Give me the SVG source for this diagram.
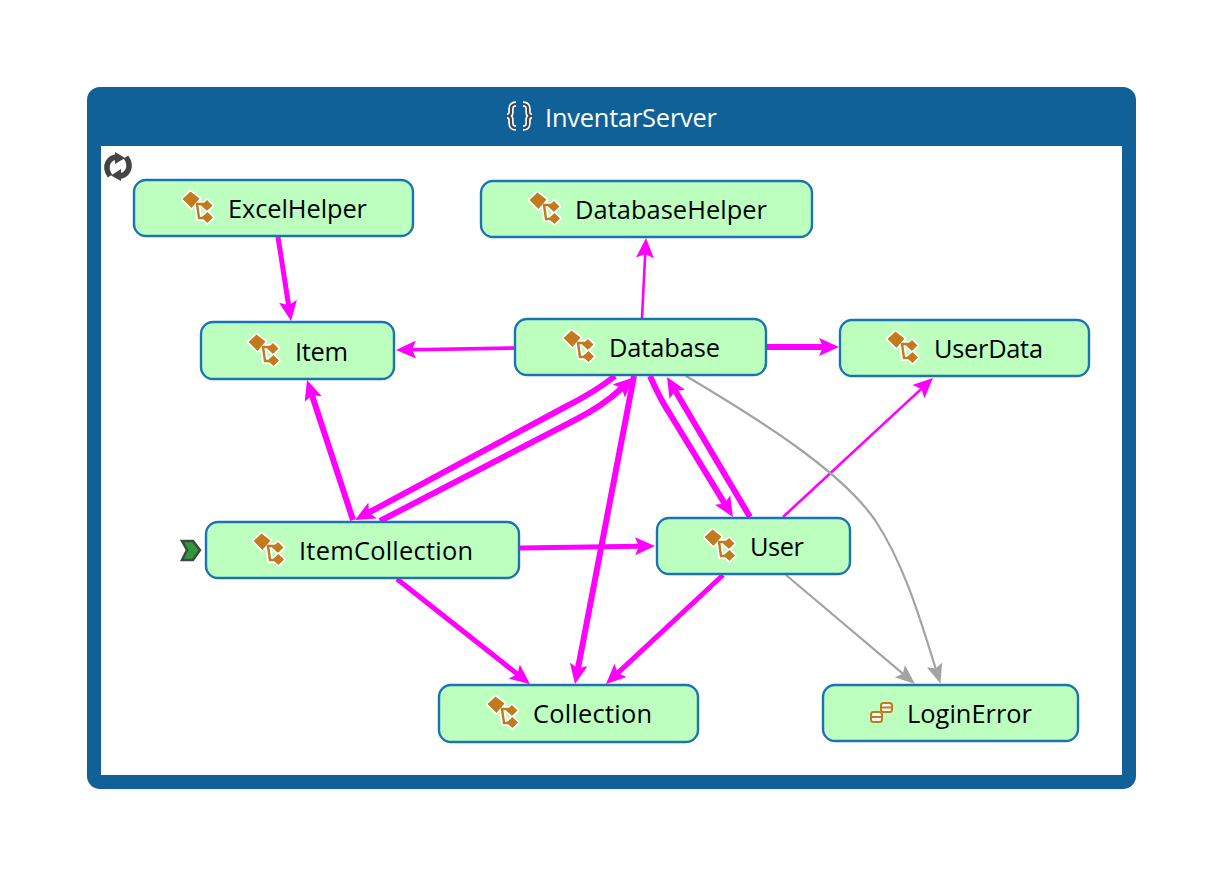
<svg xmlns="http://www.w3.org/2000/svg" width="1222" height="875" viewBox="0 0 1222 875">
<style>
.n{fill:#bcffbf;stroke:#1a74b4;stroke-width:2.4}
.t{font-family:"Open Sans","Noto Sans",sans-serif;font-size:25.4px;fill:#000}
.c{fill:none;stroke-linecap:butt}
.m{stroke:#ff00ff}
.g{stroke:#a3a3a3;stroke-width:2.2;marker-end:url(#ag)}
.w2{stroke-width:2.6;marker-end:url(#am)}
.w3{stroke-width:3.6;marker-end:url(#am)}
.w4{stroke-width:5;marker-end:url(#am)}
.w5{stroke-width:6;marker-end:url(#am)}
.ib{fill:#c17a1e;stroke:#fff;stroke-width:3.2;stroke-linejoin:round;paint-order:stroke}
.il{fill:none;stroke:#fff;stroke-width:6}
.il2{fill:none;stroke:#c17a1e;stroke-width:2.4}
</style>
<defs>
<marker id="am" markerUnits="userSpaceOnUse" markerWidth="20" markerHeight="18" viewBox="0 0 20 18" refX="4" refY="9" orient="auto"><path d="M0 0 L20 9 L0 18 L4 9 Z" fill="#ff00ff"/></marker>
<marker id="ag" markerUnits="userSpaceOnUse" markerWidth="20" markerHeight="18" viewBox="0 0 20 18" refX="4" refY="9" orient="auto"><path d="M0 1 L20 9 L0 17 L4 9 Z" fill="#a3a3a3"/></marker>
<g id="cls">
<path class="il" d="M6 11 H1 L-1 -3 H7"/>
<path class="ib" d="M-15.500 -8 L-7.500 -15.500 L1.500 -8.500 L-6.500 1 Z"/>
<path class="ib" d="M3 -1.500 L9 -7 L14.500 -1.500 L9 4 Z"/>
<path class="ib" d="M3.500 10.500 L9.500 5 L15 10.500 L9.500 16 Z"/>
<path class="il2" d="M6 11 H1 L-1 -3 H7"/>
</g>
</defs>
<rect width="1222" height="875" fill="#fff"/>
<g id="container">
<rect x="87" y="87" width="1049" height="702" rx="13" fill="#0f6198"/>
<rect x="101" y="146" width="1021" height="629" fill="#fff"/>
<text x="545" y="127" textLength="172" style="font-family:'Open Sans','Noto Sans',sans-serif;font-size:25.4px;fill:#fff">InventarServer</text>
<g id="ns-icon" fill="none">
<g stroke="#fff" stroke-width="5.500">
<path d="M516 104 C510 104 511 109 511 112 C511 115 510 116 507 116 C510 116 511 118 511 120 C511 123 510 128 516 128"/>
<path d="M523 104 C529 104 528 109 528 112 C528 115 529 116 532 116 C529 116 528 118 528 120 C528 123 529 128 523 128"/>
</g>
<g stroke="#444" stroke-width="2.200">
<path d="M516 104 C510 104 511 109 511 112 C511 115 510 116 507 116 C510 116 511 118 511 120 C511 123 510 128 516 128"/>
<path d="M523 104 C529 104 528 109 528 112 C528 115 529 116 532 116 C529 116 528 118 528 120 C528 123 529 128 523 128"/>
</g>
</g>
<g id="cycle-icon" fill="none" stroke="#444" stroke-width="5.500">
<path d="M110 176 C103 166 109 156 119 157"/>
<path d="M126 157 C133 167 127 177 117 176"/>
<path d="M115 152 L125 158 L115 164 Z" fill="#444" stroke="none"/>
<path d="M121 169 L111 175.500 L121 181 Z" fill="#444" stroke="none"/>
</g>
</g>
<g id="connectors">
<path class="c m w4" d="M278 237 L288.600 305.200"/>
<path class="c m w2" d="M642 318 L645.200 254"/>
<path class="c m w3" d="M515 348 L412 349.700"/>
<path class="c m w5" d="M767 347 L823 347"/>
<path class="c m w5" d="M615 376 C600 388 585 397 565 407 L369.100 512.400"/>
<path class="c m w5" d="M380 521 L575 420 C595 410 607 402 621.700 388.300"/>
<path class="c m w5" d="M634 376 L578 668.300"/>
<path class="c m w5" d="M650 376 C657 392 662 402 670 414 L724.600 503.400"/>
<path class="c m w5" d="M750 517 L675.200 390.800"/>
<path class="c m w5" d="M353 520 L312 395.200"/>
<path class="c m w4" d="M520 548 L639 546.200"/>
<path class="c m w4" d="M397 579 L517.400 674.100"/>
<path class="c m w4" d="M723 575 L617.700 673.100"/>
<path class="c m w2" d="M783 517 L921.300 388.900"/>
<path class="c g" d="M786 575 L902.800 673.700"/>
<path class="c g" d="M686 376 C760 420 840 470 875 520 C905 565 922 625 935.700 668.600"/>
</g>
<g id="ExcelHelper"><rect class="n" x="134" y="180" width="279" height="56" rx="12"/><use href="#cls" x="198" y="207"/><text class="t" x="228" y="218" textLength="139">ExcelHelper</text></g>
<g id="DatabaseHelper"><rect class="n" x="481" y="181" width="331" height="56" rx="12"/><use href="#cls" x="545" y="208"/><text class="t" x="575" y="219" textLength="192">DatabaseHelper</text></g>
<g id="Item"><rect class="n" x="201" y="322" width="193" height="57" rx="12"/><use href="#cls" x="264" y="350"/><text class="t" x="295" y="361" textLength="53">Item</text></g>
<g id="Database"><rect class="n" x="515" y="319" width="251" height="56" rx="12"/><use href="#cls" x="579" y="346"/><text class="t" x="609" y="357" textLength="111">Database</text></g>
<g id="UserData"><rect class="n" x="840" y="320" width="249" height="56" rx="12"/><use href="#cls" x="903" y="347"/><text class="t" x="934" y="358" textLength="109">UserData</text></g>
<g id="ItemCollection"><rect class="n" x="206" y="522" width="313" height="56" rx="12"/><use href="#cls" x="269" y="549"/><text class="t" x="299" y="560" textLength="174">ItemCollection</text><path d="M182 541 H193 L200 550 L193 560 H182 L187 550 Z" fill="#2e9a3a" stroke="#444" stroke-width="2.500"/></g>
<g id="User"><rect class="n" x="657" y="518" width="193" height="56" rx="12"/><use href="#cls" x="720" y="545"/><text class="t" x="750" y="556" textLength="54">User</text></g>
<g id="Collection"><rect class="n" x="439" y="685" width="259" height="57" rx="12"/><use href="#cls" x="503" y="712"/><text class="t" x="533" y="723" textLength="119">Collection</text></g>
<g id="LoginError"><rect class="n" x="823" y="685" width="255" height="56" rx="12"/>
<g fill="#fff" stroke="#c17a1e" stroke-width="2"><rect x="881" y="703" width="11" height="9" rx="2.500"/><rect x="871" y="712" width="11" height="10" rx="2.500"/><path d="M871 717 H882 M881 707.500 H892" fill="none"/></g>
<text class="t" x="907" y="723" textLength="125">LoginError</text></g>
</svg>
